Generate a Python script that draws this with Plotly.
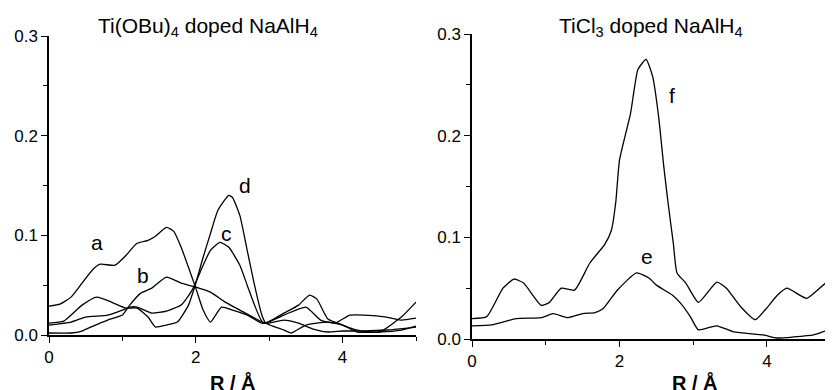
import plotly.graph_objects as go

# ---- Left panel: Ti(OBu)4 doped NaAlH4 ----
a_r = [0.0, 0.15, 0.3, 0.45, 0.6, 0.7, 0.9, 1.05, 1.2, 1.35, 1.45, 1.6, 1.7, 1.8, 1.9, 2.0, 2.1, 2.2, 2.35, 2.5, 2.7, 2.9, 3.0, 3.2, 3.4, 3.6, 3.8, 4.0, 4.3, 4.6, 5.0]
a_v = [0.029, 0.031, 0.038, 0.052, 0.066, 0.071, 0.070, 0.080, 0.092, 0.095, 0.099, 0.108, 0.104, 0.088, 0.068, 0.047, 0.025, 0.013, 0.028, 0.025, 0.020, 0.012, 0.012, 0.015, 0.012, 0.006, 0.003, 0.004, 0.004, 0.005, 0.008]

b_r = [0.0, 0.3, 0.45, 0.6, 0.8, 1.0, 1.1, 1.25, 1.4, 1.6, 1.8, 2.0, 2.2, 2.4, 2.6, 2.8, 2.95, 3.2, 3.4, 3.55, 3.65, 3.8, 4.0, 4.2, 4.5, 4.8, 5.0]
b_v = [0.002, 0.002, 0.004, 0.009, 0.015, 0.020, 0.030, 0.042, 0.047, 0.058, 0.052, 0.048, 0.043, 0.033, 0.025, 0.017, 0.012, 0.022, 0.030, 0.040, 0.036, 0.016, 0.010, 0.005, 0.003, 0.018, 0.033]

c_r = [0.0, 0.3, 0.5, 0.8, 1.0, 1.1, 1.2, 1.4, 1.6, 1.8, 1.95, 2.1, 2.2, 2.33, 2.45, 2.6, 2.7, 2.8, 2.92, 3.2, 3.5, 3.7, 3.9, 4.1, 4.3, 4.6, 4.8, 5.0]
c_v = [0.010, 0.013, 0.018, 0.020, 0.025, 0.028, 0.028, 0.022, 0.024, 0.030, 0.045, 0.070, 0.085, 0.093, 0.088, 0.070, 0.050, 0.030, 0.012, 0.020, 0.028, 0.015, 0.012, 0.020, 0.020, 0.018, 0.015, 0.017]

d_r = [0.0, 0.2, 0.45, 0.65, 0.85, 1.05, 1.2, 1.35, 1.45, 1.6, 1.75, 1.9, 2.0, 2.1, 2.2, 2.3, 2.45, 2.5, 2.6, 2.7, 2.8, 2.9, 2.95, 3.2, 3.3, 3.5, 3.8, 4.0, 4.2, 4.5, 4.8, 5.0]
d_v = [0.012, 0.014, 0.030, 0.038, 0.033, 0.027, 0.027, 0.018, 0.008, 0.010, 0.013, 0.030, 0.052, 0.078, 0.102, 0.125, 0.140, 0.138, 0.120, 0.085, 0.050, 0.020, 0.012, 0.005, 0.002, 0.010, 0.013, 0.010, 0.003, 0.003, 0.005, 0.009]

# ---- Right panel: TiCl3 doped NaAlH4 ----
f_r = [0.0, 0.2, 0.42, 0.57, 0.7, 0.94, 1.05, 1.21, 1.39, 1.6, 1.8, 1.89, 1.95, 2.0, 2.15, 2.25, 2.36, 2.45, 2.53, 2.6, 2.66, 2.73, 2.78, 2.9, 3.07, 3.32, 3.45, 3.64, 3.84, 3.99, 4.14, 4.27, 4.54, 4.82, 4.9]
f_v = [0.020, 0.022, 0.050, 0.059, 0.055, 0.033, 0.036, 0.050, 0.048, 0.075, 0.093, 0.107, 0.135, 0.176, 0.222, 0.265, 0.275, 0.258, 0.219, 0.170, 0.133, 0.094, 0.065, 0.055, 0.036, 0.056, 0.050, 0.032, 0.019, 0.030, 0.043, 0.050, 0.040, 0.056, 0.053]

e_r = [0.0, 0.27, 0.6, 0.94, 1.1, 1.3, 1.5, 1.67, 1.78, 1.97, 2.23, 2.4, 2.5, 2.72, 2.83, 2.96, 3.07, 3.32, 3.55, 3.95, 4.13, 4.36, 4.63, 4.8, 4.9]
e_v = [0.013, 0.014, 0.020, 0.021, 0.025, 0.021, 0.025, 0.026, 0.030, 0.048, 0.065, 0.060, 0.053, 0.043, 0.035, 0.022, 0.009, 0.013, 0.007, 0.004, 0.001, 0.002, 0.004, 0.008, 0.009]

left_title = "Ti(OBu)<sub>4</sub> doped NaAlH<sub>4</sub>"
right_title = "TiCl<sub>3</sub> doped NaAlH<sub>4</sub>"
x_title = "<b>R / Å</b>"
y_ticks = [0.0, 0.1, 0.2, 0.3]
x_ticks = [0, 2, 4]

W, H = 833, 390
OFF = 8  # page body margin offset


def px(x):
    return (x - OFF) / W


def py(y):
    return 1 - (y - OFF) / H


FONT = "Liberation Sans, Arial, sans-serif"
line = dict(color="black", width=1.3, shape="spline", smoothing=0.5)

fig = go.Figure()
for r, v in [(a_r, a_v), (b_r, b_v), (c_r, c_v), (d_r, d_v)]:
    fig.add_trace(go.Scatter(x=r, y=v, mode="lines", line=line, xaxis="x", yaxis="y", showlegend=False))
for r, v in [(f_r, f_v), (e_r, e_v)]:
    fig.add_trace(go.Scatter(x=r, y=v, mode="lines", line=line, xaxis="x2", yaxis="y2", showlegend=False))

ax_common = dict(showline=True, linecolor="black", linewidth=1.5, ticks="outside", ticklen=6,
                 tickwidth=1.3, tickcolor="black", showgrid=False, zeroline=False, automargin=False,
                 tickfont=dict(family=FONT, size=17, color="black"))
minor_base = dict(ticks="outside", ticklen=4, tickwidth=1.3, tickcolor="black", showgrid=False)

fig.update_layout(
    template="none",
    width=W, height=H,
    margin=dict(l=0, r=0, t=0, b=0, autoexpand=False),
    paper_bgcolor="white", plot_bgcolor="white",
    xaxis=dict(domain=[px(49), px(416)], range=[0, 5], tickvals=x_ticks, anchor="y",
               minor=dict(minor_base, tickvals=[1, 3, 5]), **ax_common),
    yaxis=dict(domain=[py(335), py(36)], range=[0, 0.3], tickvals=y_ticks, tickformat=".1f", anchor="x",
               minor=dict(minor_base, tickvals=[0.05, 0.15, 0.25]), **ax_common),
    xaxis2=dict(domain=[px(472), px(833)], range=[0, 4.895], tickvals=x_ticks, anchor="y2",
                minor=dict(minor_base, tickvals=[1, 3]), **ax_common),
    yaxis2=dict(domain=[py(339), py(34)], range=[0, 0.3], tickvals=y_ticks, tickformat=".1f", anchor="x2",
                minor=dict(minor_base, tickvals=[0.05, 0.15, 0.25]), **ax_common),
)

annots = [
    dict(text=left_title, x=208, y=27, size=21),
    dict(text=right_title, x=651, y=27, size=21),
    dict(text=x_title, x=233, y=382, size=20),
    dict(text=x_title, x=695, y=382, size=20),
]
for an in annots:
    fig.add_annotation(text=an["text"], xref="paper", yref="paper", x=px(an["x"]), y=py(an["y"]),
                       showarrow=False, xanchor="center", yanchor="middle",
                       font=dict(family=FONT, size=an["size"], color="black"))

labels = [("a", 0.65, 0.093, "x", "y"), ("b", 1.28, 0.060, "x", "y"), ("c", 2.42, 0.102, "x", "y"),
          ("d", 2.67, 0.150, "x", "y"), ("e", 2.37, 0.081, "x2", "y2"), ("f", 2.71, 0.240, "x2", "y2")]
for t, x, y, xr, yr in labels:
    fig.add_annotation(text=t, x=x, y=y, xref=xr, yref=yr, showarrow=False,
                       font=dict(family=FONT, size=21, color="black"))

fig.write_html("out.html")
